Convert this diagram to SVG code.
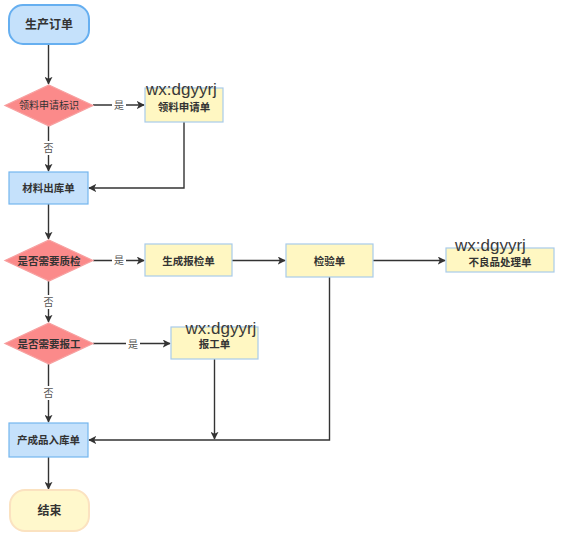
<svg xmlns="http://www.w3.org/2000/svg" width="577" height="539" viewBox="0 0 577 539">
<defs>
<marker id="arr" viewBox="0 0 10 10" refX="9" refY="5" markerWidth="8" markerHeight="8" markerUnits="userSpaceOnUse" orient="auto">
<path d="M0,0 L10,5 L0,10 L2.5,5 Z" fill="#333"/>
</marker>
<style>
text{font-family:"Liberation Sans","Noto Sans CJK SC",sans-serif;}
.t{font-size:10.5px;font-weight:bold;fill:#333;text-anchor:middle;dominant-baseline:central;}
.lbl{font-size:10px;fill:#555;text-anchor:middle;dominant-baseline:central;}
.wm{font-size:17px;fill:#3a3a3a;}
.blue{fill:#c5e1fb;stroke:#74b6ee;stroke-width:1.2;}
.yel{fill:#fff7c2;stroke:#a8cbea;stroke-width:1.2;}
.dia{fill:#fb8a8a;stroke:#f7a0a0;stroke-width:1.2;}
.ln{fill:none;stroke:#333;stroke-width:1.4;}
</style>
</defs>
<rect width="577" height="539" fill="#fff"/>
<g id="connectors">
<path class="ln" d="M48.5,44 V84" marker-end="url(#arr)"/>
<path class="ln" d="M93,105 H144" marker-end="url(#arr)"/>
<path class="ln" d="M48.5,126 V171" marker-end="url(#arr)"/>
<path class="ln" d="M184,122 V188 H89" marker-end="url(#arr)"/>
<path class="ln" d="M48.5,204 V239" marker-end="url(#arr)"/>
<path class="ln" d="M93,260.5 H144" marker-end="url(#arr)"/>
<path class="ln" d="M232,260.5 H285" marker-end="url(#arr)"/>
<path class="ln" d="M373,260.5 H445" marker-end="url(#arr)"/>
<path class="ln" d="M48.5,281 V322" marker-end="url(#arr)"/>
<path class="ln" d="M93,343.5 H170" marker-end="url(#arr)"/>
<path class="ln" d="M214.5,359 V439" marker-end="url(#arr)"/>
<path class="ln" d="M329.5,277 V440 H89" marker-end="url(#arr)"/>
<path class="ln" d="M48.5,364 V422" marker-end="url(#arr)"/>
<path class="ln" d="M48.5,457 V489" marker-end="url(#arr)"/>
<rect x="112" y="98" width="14" height="14" fill="#fff"/>
<text class="lbl" x="119" y="105">是</text>
<rect x="41" y="141" width="15" height="14" fill="#fff"/>
<text class="lbl" x="48.5" y="148">否</text>
<rect x="112" y="253" width="14" height="14" fill="#fff"/>
<text class="lbl" x="119" y="260.5">是</text>
<rect x="41" y="295" width="15" height="14" fill="#fff"/>
<text class="lbl" x="48.5" y="302">否</text>
<rect x="126" y="337" width="14" height="14" fill="#fff"/>
<text class="lbl" x="133" y="344">是</text>
<rect x="41" y="386" width="15" height="14" fill="#fff"/>
<text class="lbl" x="48.5" y="393">否</text>
</g>
<g id="start">
<rect x="9" y="5" width="80" height="39" rx="14" fill="#c5e1fb" stroke="#66aff0" stroke-width="2"/>
<text class="t" x="49" y="25" style="font-size:12px">生产订单</text>
</g>
<g id="d1">
<polygon class="dia" points="49,85 93,105.5 49,126 5,105.5"/>
<text class="t" x="49" y="105.5" style="font-weight:normal;font-size:10px">领料申请标识</text>
</g>
<g id="n-apply">
<rect class="yel" x="145" y="88" width="78" height="34"/>
<text class="t" x="184" y="106.5">领料申请单</text>
</g>
<g id="n-out">
<rect class="blue" x="9" y="172" width="79" height="32"/>
<text class="t" x="48.5" y="188">材料出库单</text>
</g>
<g id="d2">
<polygon class="dia" points="49,240 93,260.5 49,281 5,260.5"/>
<text class="t" x="49" y="260.5">是否需要质检</text>
</g>
<g id="n-report">
<rect class="yel" x="145" y="244" width="87" height="32"/>
<text class="t" x="188.5" y="260.5">生成报检单</text>
</g>
<g id="n-inspect">
<rect class="yel" x="286" y="244" width="87" height="33"/>
<text class="t" x="329.5" y="261">检验单</text>
</g>
<g id="n-defect">
<rect class="yel" x="446" y="248" width="108" height="24"/>
<text class="t" x="500" y="261.5">不良品处理单</text>
</g>
<g id="d3">
<polygon class="dia" points="49,323 93,343.5 49,364 5,343.5"/>
<text class="t" x="49" y="343.5">是否需要报工</text>
</g>
<g id="n-work">
<rect class="yel" x="171" y="327" width="87" height="32"/>
<text class="t" x="214.5" y="344">报工单</text>
</g>
<g id="n-in">
<rect class="blue" x="9" y="423" width="79" height="34"/>
<text class="t" x="48.5" y="440">产成品入库单</text>
</g>
<g id="end">
<rect x="10" y="490" width="79" height="41" rx="15" fill="#fff8cc" stroke="#fbe2c0" stroke-width="2"/>
<text class="t" x="49.5" y="511" style="font-size:12px">结束</text>
</g>
<g id="watermarks">
<text class="wm" x="146" y="94.5">wx:dgyyrj</text>
<text class="wm" x="455" y="251">wx:dgyyrj</text>
<text class="wm" x="185.5" y="334">wx:dgyyrj</text>
</g>
</svg>
